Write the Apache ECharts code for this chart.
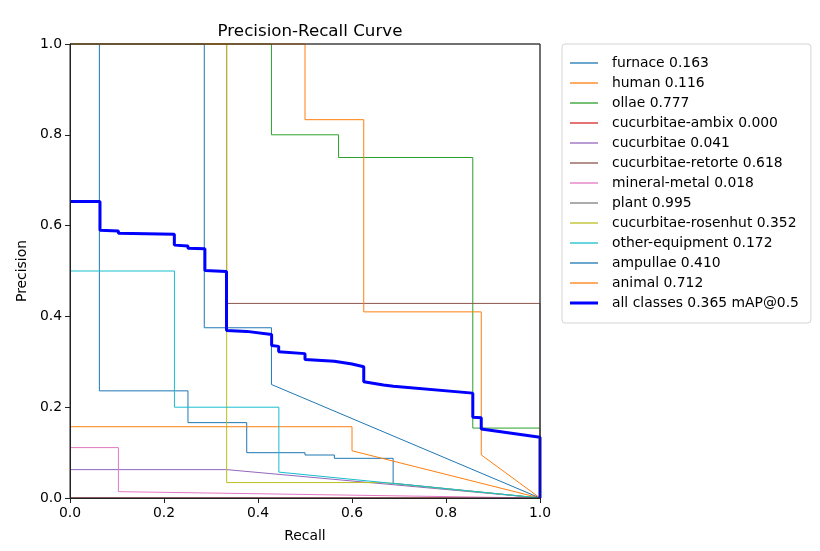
<!DOCTYPE html>
<html>
<head>
<meta charset="utf-8">
<script src="https://cdn.jsdelivr.net/npm/echarts@6/dist/echarts.min.js"></script>
<style>
html,body{margin:0;padding:0;background:#fff;}
#chart{width:820px;height:551px;}
</style>
</head>
<body>
<div id="chart"></div>
<script>
// ---- Data (recall, precision) ----
var classNames = ["furnace", "human", "ollae", "cucurbitae-ambix", "cucurbitae",
  "cucurbitae-retorte", "mineral-metal", "plant", "cucurbitae-rosenhut",
  "other-equipment", "ampullae", "animal"];
var classAP = [0.163, 0.116, 0.777, 0.000, 0.041, 0.618, 0.018, 0.995, 0.352, 0.172, 0.410, 0.712];
var classColors = ["#1f77b4", "#ff7f0e", "#2ca02c", "#d62728", "#9467bd", "#8c564b",
  "#e377c2", "#7f7f7f", "#bcbd22", "#17becf", "#1f77b4", "#ff7f0e"];

var furnace = [[0,1],[0.0625,1],[0.0625,0.236],[0.251,0.236],[0.251,0.166],[0.376,0.166],[0.376,0.0998],[0.5,0.0998],[0.5,0.0947],[0.5625,0.0947],[0.5625,0.0874],[0.6875,0.0874],[0.6875,0.0324],[1,0]];
var human = [[0,0.157],[0.6,0.157],[0.6,0.104],[1,0]];
var ollae = [[0,1],[0.4286,1],[0.4286,0.8],[0.5714,0.8],[0.5714,0.75],[0.857,0.75],[0.857,0.154],[1,0.154],[1,0]];
var cucurbitaeAmbix = [[0,0],[1,0]];
var cucurbitae = [[0,0.0625],[0.3333,0.0625],[1,0]];
var cucurbitaeRetorte = [[0,1],[0.3333,1],[0.3333,0.4286],[1,0.4286],[1,0]];
var mineralMetal = [[0,0.111],[0.103,0.111],[0.103,0.014],[1,0]];
var plant = [[0,1],[1,1],[1,0]];
var cucurbitaeRosenhut = [[0,1],[0.3333,1],[0.3333,0.034],[0.6667,0.034],[1,0]];
var otherEquipment = [[0,0.5],[0.2222,0.5],[0.2222,0.2],[0.4444,0.2],[0.4444,0.057],[1,0]];
var ampullae = [[0,1],[0.2857,1],[0.2857,0.375],[0.4286,0.375],[0.4286,0.25],[1,0]];
var animal = [[0,1],[0.5,1],[0.5,0.8333],[0.625,0.8333],[0.625,0.41],[0.875,0.41],[0.875,0.095],[1,0]];

var allClasses = [[0,0.653],[0.0638,0.653],[0.0638,0.590],[0.103,0.588],[0.103,0.583],[0.222,0.581],[0.222,0.557],[0.251,0.555],[0.251,0.550],[0.287,0.549],[0.287,0.501],[0.333,0.499],[0.333,0.369],[0.376,0.367],[0.376,0.363],[0.429,0.360],[0.429,0.336],[0.444,0.334],[0.444,0.322],[0.5,0.318],[0.5,0.305],[0.5625,0.301],[0.5625,0.298],[0.6,0.295],[0.6,0.291],[0.625,0.289],[0.625,0.256],[0.667,0.249],[0.688,0.246],[0.688,0.244],[0.857,0.231],[0.857,0.178],[0.875,0.177],[0.875,0.152],[1.0,0.134],[1.0,0]];
var allClassesLabel = "all classes 0.365 mAP@0.5";

var classData = [furnace, human, ollae, cucurbitaeAmbix, cucurbitae, cucurbitaeRetorte,
  mineralMetal, plant, cucurbitaeRosenhut, otherEquipment, ampullae, animal];

// ---- Build chart ----
var font = "DejaVu Sans";
var thinIcon = "path://M0,0H28V1.3H0Z";
var thickIcon = "path://M0,0H28V3H0Z";
var series = [];
var legendData = [];
for (var i = 0; i < classNames.length; i++) {
  var nm = classNames[i] + " " + classAP[i].toFixed(3);
  legendData.push({name: nm, icon: thinIcon});
  series.push({
    name: nm, type: "line", data: classData[i], symbol: "none", clip: false,
    lineStyle: {color: classColors[i], width: 1}, itemStyle: {color: classColors[i]},
    emphasis: {disabled: true}, animation: false
  });
}
legendData.push({name: allClassesLabel, icon: thickIcon});
series.push({
  name: allClassesLabel, type: "line", data: allClasses, symbol: "none", clip: false,
  lineStyle: {color: "#0000ff", width: 3}, itemStyle: {color: "#0000ff"},
  emphasis: {disabled: true}, animation: false, z: 5
});

var axisCommon = {
  type: "value", min: 0, max: 1, interval: 0.2, z: 10,
  nameLocation: "middle",
  nameTextStyle: {fontFamily: font, fontSize: 13.9, color: "#000"},
  axisLine: {show: true, lineStyle: {color: "#222"}},
  axisTick: {show: true, length: 5, lineStyle: {color: "#222"}},
  axisLabel: {fontFamily: font, fontSize: 13.9, color: "#000", margin: 8,
    formatter: function (v) { return v.toFixed(1); }},
  splitLine: {show: false}
};

var chart = echarts.init(document.getElementById("chart"), null, {renderer: "canvas"});
chart.setOption({
  backgroundColor: "#ffffff",
  animation: false,
  title: {
    text: "Precision-Recall Curve", left: 305, top: 18, textAlign: "center",
    textStyle: {fontFamily: font, fontSize: 16.7, fontWeight: "normal", color: "#000"}
  },
  grid: {left: 70, top: 44, right: 280, bottom: 53, show: true, z: 10,
    borderColor: "#222", borderWidth: 1, backgroundColor: "transparent"},
  legend: {
    data: legendData, orient: "vertical", left: 562, top: 44,
    itemWidth: 28, itemHeight: 12, itemGap: 6,
    padding: [12, 12, 13, 8], borderColor: "#d4d4d4", borderWidth: 1, borderRadius: 3,
    backgroundColor: "#fff",
    textStyle: {fontFamily: font, fontSize: 13.9, color: "#000", padding: [0, 0, 0, 9]},
    selectedMode: false
  },
  xAxis: Object.assign({}, axisCommon, {name: "Recall", nameGap: 31}),
  yAxis: Object.assign({}, axisCommon, {name: "Precision", nameGap: 39}),
  series: series
});
</script>
</body>
</html>
